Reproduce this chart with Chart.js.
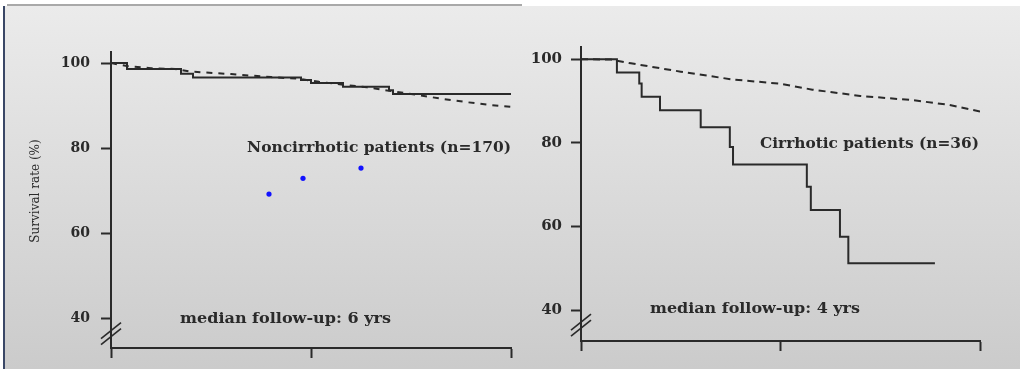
<!DOCTYPE html>
<html>
<head>
<meta charset="utf-8">
<script src="https://cdn.jsdelivr.net/npm/chart.js@4/dist/chart.umd.min.js"></script>
<style>
  body { margin: 0; background: #fff; }
  #wrap { position: relative; width: 1020px; height: 369px; overflow: hidden; }
  #bg { position: absolute; left: 4px; top: 6px; right: 0; bottom: 0; background: linear-gradient(#ebebeb, #cbcbcb); }
  #topline { position: absolute; left: 7px; top: 4px; width: 515px; height: 2px; background: #a9a9a9; }
  #leftline { position: absolute; left: 3px; top: 6px; width: 2px; bottom: 0; background: #3a4766; }
  canvas { position: absolute; top: 0; filter: blur(0.35px); }
  #left_chart { left: 0; }
  #right_chart { left: 520px; }
</style>
</head>
<body>
<div id="wrap">
  <div id="bg"></div>
  <div id="topline"></div>
  <div id="leftline"></div>
  <canvas id="left_chart" width="520" height="369"></canvas>
  <canvas id="right_chart" width="500" height="369"></canvas>
</div>
<script>
// years of follow-up, survival rate (%)
var X_TICKS = [0, 5, 10];
var Y_TICKS = [40, 60, 80, 100];

// noncirrhotic patients, observed (step) curve
var non_time = [0, 0.4, 1.75, 2.05, 4.75, 5.0, 5.8, 6.95, 7.05, 10];
var non_surv = [100, 98.6, 97.5, 96.6, 96.0, 95.3, 94.4, 93.6, 92.7, 92.7];
// noncirrhotic patients, expected (dashed)
var non_exp_time = [0, 0.4, 1.0, 1.6, 2.0, 3.0, 4.0, 4.7, 5.2, 5.8, 6.4, 7.0, 7.6, 8.2, 8.9, 9.5, 10];
var non_exp_surv = [100, 99.3, 98.8, 98.6, 98.0, 97.4, 96.7, 96.3, 95.6, 94.9, 94.3, 93.4, 92.6, 91.7, 90.8, 90.1, 89.7];
// blue marks on the left panel
var dots_x = [3.95, 4.8, 6.25];
var dots_y = [69.2, 72.9, 75.3];

// cirrhotic patients, observed (step) curve
var cir_time = [0, 0.9, 1.46, 1.52, 1.98, 3.0, 3.73, 3.81, 5.66, 5.76, 6.49, 6.70, 8.87];
var cir_surv = [100, 96.8, 94.2, 91.0, 87.8, 83.7, 79.0, 74.8, 69.5, 63.9, 57.5, 51.2, 51.2];
// cirrhotic patients, expected (dashed)
var cir_exp_time = [0, 0.75, 1.25, 2.5, 3.75, 5.0, 5.8, 7.0, 8.3, 9.2, 10];
var cir_exp_surv = [100, 99.9, 99.0, 97.0, 95.2, 94.1, 92.7, 91.2, 90.2, 89.1, 87.5];

var INK = '#2a2a2a';
var FONT = '"DejaVu Serif", "Liberation Serif", serif';

function points(xs, ys) {
    return xs.map(function (x, i) { return {x: x, y: ys[i]}; });
}

// text squeezed/stretched to a given width, like the scanned figure
function wideText(ctx, text, x, y, w) {
    var k = w / ctx.measureText(text).width;
    ctx.save();
    ctx.translate(x, y);
    ctx.scale(k, 1);
    ctx.fillText(text, 0, 0);
    ctx.restore();
}

function notesPlugin(p) {
    return {
        id: 'notes',
        afterDraw: function (chart) {
            var ctx = chart.ctx;
            var xs = chart.scales.x, ys = chart.scales.y;
            ctx.save();
            ctx.fillStyle = INK;
            ctx.textBaseline = 'middle';
            ctx.textAlign = 'left';
            ctx.font = 'bold 14px ' + FONT;
            p.texts.forEach(function (t) { wideText(ctx, t[0], t[1], t[2], t[3]); });

            if (p.yTitle) {
                ctx.font = '12px ' + FONT;
                ctx.translate(p.yTitle[1], p.yTitle[2]);
                ctx.rotate(-Math.PI / 2);
                ctx.textAlign = 'center';
                ctx.fillText(p.yTitle[0], 0, 0);
                ctx.setTransform(1, 0, 0, 1, 0, 0);
            }

            // axis break //
            var bx = xs.left, by = ys.getPixelForValue(36.4);
            ctx.strokeStyle = INK;
            ctx.lineWidth = 1.6;
            [-3, 3].forEach(function (o) {
                ctx.beginPath();
                ctx.moveTo(bx - 10, by + 8 + o);
                ctx.lineTo(bx + 10, by - 8 + o);
                ctx.stroke();
            });
            ctx.restore();
        }
    };
}

function getChartJs(p) {
    var line = {borderColor: INK, borderWidth: 2, pointRadius: 0, fill: false};
    var datasets = [
        Object.assign({data: points(p.expT, p.expS), borderDash: p.dash}, line),
        Object.assign({data: points(p.obsT, p.obsS), stepped: 'before'}, line)
    ];
    if (p.dotsX) {
        datasets.push({data: points(p.dotsX, p.dotsY), showLine: false, pointRadius: 2.6,
            pointBackgroundColor: '#1212ff', pointBorderWidth: 0});
    }
    var axisGrid = {drawOnChartArea: false, drawTicks: true, tickLength: 10, tickColor: INK, tickWidth: 2};
    return {
        type: 'line',
        data: {datasets: datasets},
        options: {
            responsive: false,
            animation: false,
            layout: {padding: p.pad},
            plugins: {legend: {display: false}, tooltip: {enabled: false}},
            scales: {
                x: {
                    type: 'linear', min: 0, max: 10,
                    afterBuildTicks: function (s) { s.ticks = X_TICKS.map(function (v) { return {value: v}; }); },
                    grid: axisGrid,
                    border: {color: INK, width: 2},
                    ticks: {display: false}
                },
                y: {
                    type: 'linear', min: p.yMin, max: p.yMax,
                    afterBuildTicks: function (s) { s.ticks = Y_TICKS.map(function (v) { return {value: v}; }); },
                    afterFit: function (s) { s.width = p.yWidth; },
                    grid: axisGrid,
                    border: {color: INK, width: 2},
                    ticks: {color: INK, padding: p.labelPad, font: {family: FONT, weight: 'bold', size: p.tickSize}}
                }
            }
        },
        plugins: [notesPlugin(p)]
    };
}

new Chart(document.getElementById('left_chart').getContext('2d'), getChartJs({
    obsT: non_time, obsS: non_surv, expT: non_exp_time, expS: non_exp_surv,
    dotsX: dots_x, dotsY: dots_y, dash: [6, 6],
    yMin: 33, yMax: 102.6, yWidth: 100, labelPad: 11, tickSize: 14,
    pad: {left: 11, right: 9, top: 52, bottom: 11},
    texts: [['Noncirrhotic patients (n=170)', 247, 148, 264], ['median follow-up: 6 yrs', 180, 319, 211]],
    yTitle: ['Survival rate (%)', 36, 191]
}));

new Chart(document.getElementById('right_chart').getContext('2d'), getChartJs({
    obsT: cir_time, obsS: cir_surv, expT: cir_exp_time, expS: cir_exp_surv,
    dash: [7, 5],
    yMin: 32.6, yMax: 102.9, yWidth: 55, labelPad: 9, tickSize: 15,
    pad: {left: 6, right: 40, top: 47, bottom: 18},
    texts: [['Cirrhotic patients (n=36)', 240, 144, 219], ['median follow-up: 4 yrs', 130, 309, 210]]
}));
</script>
</body>
</html>
